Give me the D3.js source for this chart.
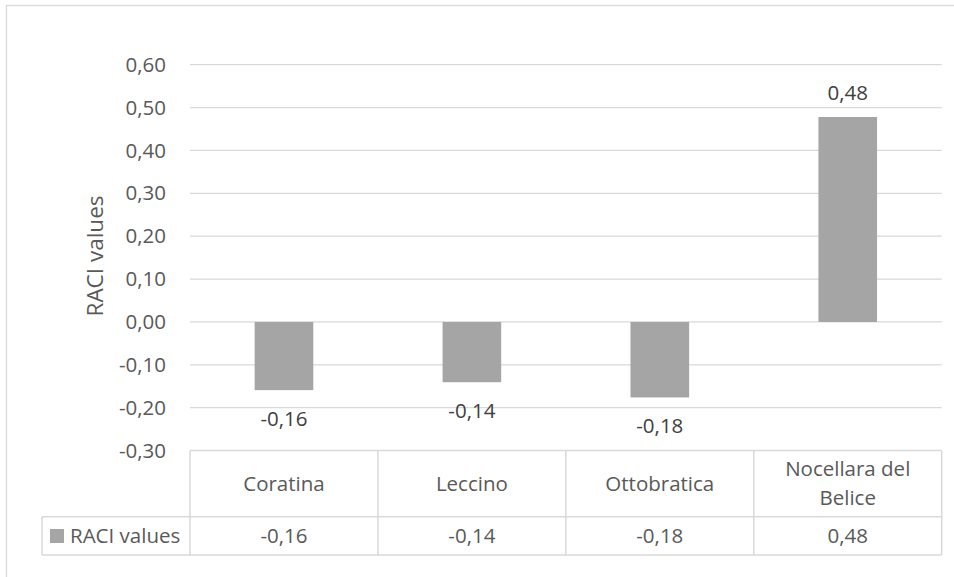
<!DOCTYPE html>
<html>
<head>
<meta charset="utf-8">
<script src="https://cdn.jsdelivr.net/npm/d3@7"></script>
<style>
  html, body { margin: 0; padding: 0; background: #fff; }
  svg { display: block; }
  text { font-family: "Open Sans", sans-serif; }
</style>
</head>
<body>
<svg id="chart" width="954" height="577"></svg>
<script>
const categories = ["Coratina", "Leccino", "Ottobratica", "Nocellara del Belice"];
const categoryLines = [["Coratina"], ["Leccino"], ["Ottobratica"], ["Nocellara del", "Belice"]];
const seriesName = "RACI values";
const values = [-0.16, -0.14, -0.18, 0.48];
// bar lengths (labels show rounded values)
const barValues = [-0.159, -0.1405, -0.176, 0.478];
const yTicks = [-0.30, -0.20, -0.10, 0.00, 0.10, 0.20, 0.30, 0.40, 0.50, 0.60];
const axisTitle = "RACI values";

const locale = d3.formatLocale({decimal: ",", thousands: ".", grouping: [3], currency: ["", "€"], minus: "-"});
const fmt = locale.format(".2f");

const svg = d3.select("#chart");
const plot = {left: 190, right: 941.7, top: 64.7, bottom: 450.6};
const gridColor = "#d9d9d9";
const textColor = "#595959";
const labelColor = "#404040";
const barColor = "#a5a5a5";
const fs = "20.5px";

// outer chart frame (extends beyond the picture to the right and bottom)
svg.append("rect")
  .attr("x", 6.5).attr("y", 5.5)
  .attr("width", 2000).attr("height", 2000)
  .attr("fill", "none").attr("stroke", gridColor).attr("stroke-width", 1.3);

const x = d3.scaleBand().domain(categories).range([plot.left, plot.right]).paddingInner(0).paddingOuter(0);
const y = d3.scaleLinear().domain([-0.3, 0.6]).range([plot.bottom, plot.top]);

// gridlines
svg.append("g").selectAll("line")
  .data(yTicks.filter(t => t > -0.3))
  .join("line")
  .attr("x1", plot.left).attr("x2", plot.right)
  .attr("y1", d => y(d)).attr("y2", d => y(d))
  .attr("stroke", gridColor).attr("stroke-width", 1.3);

// y axis labels
const yAxis = d3.axisLeft(y).tickValues(yTicks).tickFormat(d => fmt(d)).tickSize(0).tickPadding(0);
const gy = svg.append("g").attr("transform", `translate(166,0)`).call(yAxis);
gy.select(".domain").remove();
gy.selectAll("text")
  .attr("fill", textColor)
  .style("font-size", fs)
  .style("font-family", "'Open Sans', sans-serif");

// axis title
svg.append("text")
  .attr("transform", `translate(103,256) rotate(-90)`)
  .attr("text-anchor", "middle")
  .attr("fill", textColor)
  .style("font-size", "22.5px")
  .text(axisTitle);

// bars
const barW = x.bandwidth() * 0.312;
svg.append("g").selectAll("rect")
  .data(categories)
  .join("rect")
  .attr("x", (d) => x(d) + (x.bandwidth() - barW) / 2)
  .attr("width", barW)
  .attr("y", (d, i) => y(Math.max(0, barValues[i])))
  .attr("height", (d, i) => Math.abs(y(barValues[i]) - y(0)))
  .attr("fill", barColor);

// data labels
svg.append("g").selectAll("text")
  .data(categories)
  .join("text")
  .attr("x", d => x(d) + x.bandwidth() / 2)
  .attr("y", (d, i) => barValues[i] >= 0 ? y(barValues[i]) - 17 : y(barValues[i]) + 35.7)
  .attr("text-anchor", "middle")
  .attr("fill", labelColor)
  .style("font-size", fs)
  .text((d, i) => fmt(values[i]));

// data table
const tTop = plot.bottom, tMid = 516.7, tBot = 555, legLeft = 42;
const tg = svg.append("g").attr("stroke", gridColor).attr("stroke-width", 1.5).attr("fill", "none");
tg.append("line").attr("x1", plot.left).attr("x2", plot.right).attr("y1", tTop).attr("y2", tTop);
tg.append("line").attr("x1", legLeft).attr("x2", plot.right).attr("y1", tMid).attr("y2", tMid);
tg.append("line").attr("x1", legLeft).attr("x2", plot.right).attr("y1", tBot).attr("y2", tBot);
tg.append("line").attr("x1", legLeft).attr("x2", legLeft).attr("y1", tMid).attr("y2", tBot);
tg.selectAll(".v").data(categories.concat(["end"]))
  .join("line")
  .attr("x1", (d) => d === "end" ? plot.right : x(d))
  .attr("x2", (d) => d === "end" ? plot.right : x(d))
  .attr("y1", tTop).attr("y2", tBot);

// header category text
const headG = svg.append("g");
categories.forEach((c, i) => {
  const lines = categoryLines[i];
  const lh = 29;
  const cy = (tTop + tMid) / 2;
  const t = headG.append("text")
    .attr("x", x(c) + x.bandwidth() / 2)
    .attr("text-anchor", "middle")
    .attr("fill", textColor)
    .style("font-size", fs);
  lines.forEach((ln, j) => {
    t.append("tspan")
      .attr("x", x(c) + x.bandwidth() / 2)
      .attr("y", cy + 7 + (j - (lines.length - 1) / 2) * lh)
      .text(ln);
  });
});

// value row
svg.append("g").selectAll("text")
  .data(categories)
  .join("text")
  .attr("x", d => x(d) + x.bandwidth() / 2)
  .attr("y", (tMid + tBot) / 2 + 7)
  .attr("text-anchor", "middle")
  .attr("fill", textColor)
  .style("font-size", fs)
  .text((d, i) => fmt(values[i]));

// legend key in table
svg.append("rect").attr("x", 50).attr("y", 529).attr("width", 14).attr("height", 14).attr("fill", barColor);
svg.append("text")
  .attr("x", 70).attr("y", (tMid + tBot) / 2 + 7)
  .attr("fill", textColor)
  .style("font-size", fs)
  .text(seriesName);
</script>
</body>
</html>
